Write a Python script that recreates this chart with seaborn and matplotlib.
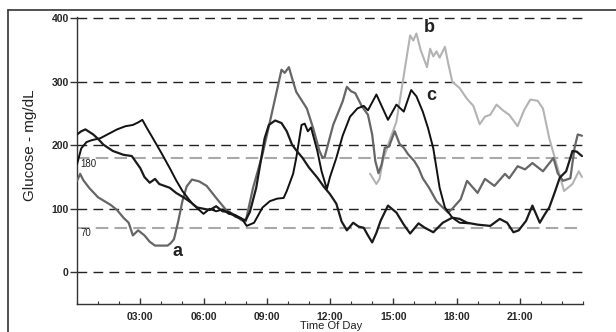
import numpy as np
import pandas as pd
import matplotlib
matplotlib.use("Agg")
import matplotlib.pyplot as plt
from matplotlib.lines import Line2D
from matplotlib.ticker import MultipleLocator
import seaborn as sns

## data (hours of day, mg/dL)
black1_t = [0, 0.2, 0.4, 0.77, 1.0, 1.25, 1.7, 2.2, 2.6, 3.0, 3.2, 3.45, 3.7, 3.9, 4.15,
            4.4, 4.7, 5.1, 5.4, 5.7, 6.0, 6.3, 6.6, 6.9, 7.2, 7.5, 7.8, 8.0, 8.2, 8.5,
            8.9, 9.1, 9.4, 9.7, 9.95, 10.2, 10.4, 10.7, 11.0, 11.4, 11.7, 12.0, 12.3, 12.55, 12.8,
            13.1, 13.35, 13.6, 13.8, 14.0, 14.2, 14.4, 14.75, 15.15, 15.5, 15.8, 16.2, 16.5, 16.9, 17.35,
            17.8, 18.15, 18.5, 19.0, 19.6, 20.05, 20.4, 20.7, 20.95, 21.3, 21.6, 21.95, 22.2, 22.4, 22.65,
            22.9, 23.2, 23.4, 23.5, 23.7, 23.95]
black1_v = [217, 222, 225, 217, 210, 201, 191, 185, 183, 164, 150, 141, 147, 139, 136,
            133, 125, 117, 110, 102, 100, 98, 104, 96, 95, 88, 84, 82, 95, 133,
            211, 232, 239, 235, 222, 201, 192, 180, 165, 149, 135, 123, 108, 80, 66,
            78, 72, 70, 58, 47, 62, 81, 105, 94, 75, 61, 77, 70, 63, 78,
            86, 84, 78, 75, 73, 84, 78, 63, 66, 81, 105, 78, 92, 102, 125,
            149, 159, 180, 191, 190, 183]

c_t = [0, 0.2, 0.45, 0.7, 1.1, 1.5, 1.9, 2.3, 2.65, 2.9, 3.1, 3.3, 3.6, 4.0, 4.4,
       4.7, 5.0, 5.3, 5.5, 5.8, 6.0, 6.3, 6.6, 6.9, 7.2, 7.5, 7.8, 8.05, 8.4, 8.8,
       9.15, 9.5, 9.8, 9.95, 10.25, 10.4, 10.65, 10.8, 10.95, 11.1, 11.4, 11.6, 11.85, 12.0, 12.3,
       12.6, 12.95, 13.3, 13.6, 13.8, 14.2, 14.75, 15.15, 15.5, 15.85, 16.1, 16.4, 16.65, 16.9, 17.05,
       17.2, 17.45, 17.8, 18.15, 18.6]
c_v = [170, 195, 205, 208, 211, 218, 225, 230, 232, 236, 240, 228, 211, 188, 164,
       145, 128, 115, 107, 98, 92, 100, 96, 99, 92, 90, 85, 73, 78, 102,
       112, 116, 117, 128, 155, 180, 232, 234, 222, 228, 191, 159, 131, 150, 180,
       215, 245, 258, 262, 255, 280, 240, 264, 253, 287, 277, 253, 227, 195, 164,
       133, 102, 86, 78, 77]

a_t = [0, 0.15, 0.3, 0.6, 1.0, 1.3, 1.6, 1.9, 2.2, 2.45, 2.65, 2.9, 3.2, 3.45, 3.7,
       4.0, 4.3, 4.45, 4.6, 4.8, 5.0, 5.2, 5.45, 5.8, 6.15, 6.6, 7.1, 7.5, 7.8, 8.0,
       8.35, 8.8, 9.15, 9.5, 9.7, 9.85, 10.05, 10.25, 10.4, 10.9, 11.2, 11.5, 11.65, 11.75, 12.15,
       12.6, 12.8, 13.0, 13.2, 13.5, 13.8, 14.0, 14.15, 14.3, 14.45, 14.6, 14.8, 15.07, 15.3, 15.5,
       15.7, 16.0, 16.2, 16.4, 16.7, 17.05, 17.35, 17.6, 17.8, 18.2, 18.5, 19.0, 19.35, 19.8, 20.3,
       20.5, 20.9, 21.25, 21.6, 22.1, 22.6, 22.8, 23.05, 23.4, 23.6, 23.75, 23.95]
a_v = [144, 155, 145, 132, 118, 112, 106, 98, 86, 78, 58, 66, 58, 48, 42,
       42, 42, 46, 52, 80, 112, 135, 146, 143, 136, 117, 97, 90, 82, 80,
       133, 186, 237, 289, 319, 314, 323, 300, 284, 258, 227, 191, 180, 182, 232,
       269, 292, 285, 282, 262, 248, 217, 175, 156, 170, 196, 198, 222, 202, 196,
       186, 175, 164, 148, 133, 112, 102, 94, 100, 115, 144, 125, 147, 136, 155,
       148, 167, 162, 172, 159, 180, 156, 144, 148, 196, 217, 215]

b_t = [13.9, 14.2, 14.35, 14.5, 14.8, 15.15, 15.5, 15.8, 15.95, 16.1, 16.3, 16.6, 16.75, 16.9, 17.05,
       17.2, 17.45, 17.6, 17.8, 18.15, 18.5, 18.8, 19.1, 19.35, 19.6, 19.9, 20.2, 20.5, 20.9, 21.2,
       21.5, 21.85, 22.1, 22.4, 22.8, 23.1, 23.5, 23.8, 23.95]
b_v = [155, 139, 147, 175, 205, 237, 310, 373, 365, 376, 350, 323, 352, 340, 348,
       338, 355, 330, 300, 290, 273, 262, 233, 245, 248, 264, 255, 248, 230, 255,
       272, 270, 258, 211, 164, 128, 139, 159, 150]

grid_levels = [0, 100, 200, 300, 400]
target_levels = [70, 180]
x_ticks = [3, 6, 9, 12, 15, 18, 21]
x_labels = ['03:00', '06:00', '09:00', '12:00', '15:00', '18:00', '21:00']

sns.set_style('white')
plt.rcParams['font.family'] = ['Liberation Sans', 'DejaVu Sans']

fig = plt.figure(figsize=(6.16, 3.32), dpi=100)
ax = fig.add_axes([77 / 616, 1 - 304 / 332, 506 / 616, 287 / 332])

for lv in grid_levels:
    ax.axhline(lv, color='#222222', lw=1.0, ls=(0, (7, 4.5)), zorder=1)
for lv in target_levels:
    ax.axhline(lv, color='#a9a9a9', lw=1.5, ls=(0, (6, 3)), zorder=1)

sns.lineplot(x=b_t, y=b_v, ax=ax, color='#b3b3b3', lw=1.5, estimator=None, zorder=2)
sns.lineplot(x=a_t, y=a_v, ax=ax, color='#666666', lw=1.6, estimator=None, zorder=3)
sns.lineplot(x=c_t, y=c_v, ax=ax, color='#111111', lw=1.4, estimator=None, zorder=4)
sns.lineplot(x=black1_t, y=black1_v, ax=ax, color='#1a1a1a', lw=1.6, estimator=None, zorder=4)

ax.set_xlim(0, 24)
ax.set_ylim(-50, 402)
ax.set_xticks(x_ticks)
ax.set_xticklabels(x_labels, fontweight='bold', fontsize=7.5)
ax.xaxis.set_minor_locator(MultipleLocator(1))
ax.set_yticks(grid_levels)
ax.set_yticklabels([str(v) for v in grid_levels], fontweight='bold', fontsize=7.5)
ax.tick_params(axis='x', which='major', direction='in', length=4, width=1, color='#333333', pad=6)
ax.tick_params(axis='x', which='minor', direction='in', length=2.5, width=0.8, color='#333333')
ax.tick_params(axis='y', direction='out', length=5, width=1, color='#333333', pad=1)
ax.tick_params(axis='x', bottom=True, which='both')
ax.tick_params(axis='y', left=True)
ax.set_xlabel('')
ax.set_ylabel('')
for s in ['top', 'right']:
    ax.spines[s].set_visible(False)
for s in ['left', 'bottom']:
    ax.spines[s].set_color('#333333')
    ax.spines[s].set_linewidth(1.0)

ax.text(0.15, 170, '180', fontsize=7, color='#222222', va='center', ha='left')
ax.text(0.15, 62, '70', fontsize=7, color='#222222', va='center', ha='left')
ax.text(4.79, 33, 'a', fontsize=13, fontweight='bold', color='#222222', ha='center', va='center')
ax.text(16.73, 386, 'b', fontsize=13, fontweight='bold', color='#222222', ha='center', va='center')
ax.text(16.82, 279, 'c', fontsize=13, fontweight='bold', color='#222222', ha='center', va='center')

fig.text(30 / 616, 1 - 145 / 332, 'Glucose - mg/dL', rotation=90, fontsize=11,
         ha='center', va='center', color='#222222')
fig.text(331 / 616, 1 - 326 / 332, 'Time Of Day', fontsize=8, ha='center', va='center', color='#222222')

# outer frame (left and top edges visible in the picture)
fig.add_artist(Line2D([8 / 616, 8 / 616], [0, 1 - 10 / 332], transform=fig.transFigure,
                      color='#333333', lw=1.2))
fig.add_artist(Line2D([8 / 616, 1], [1 - 10 / 332, 1 - 10 / 332], transform=fig.transFigure,
                      color='#333333', lw=1.2))

fig.savefig('out.png', dpi=100)
